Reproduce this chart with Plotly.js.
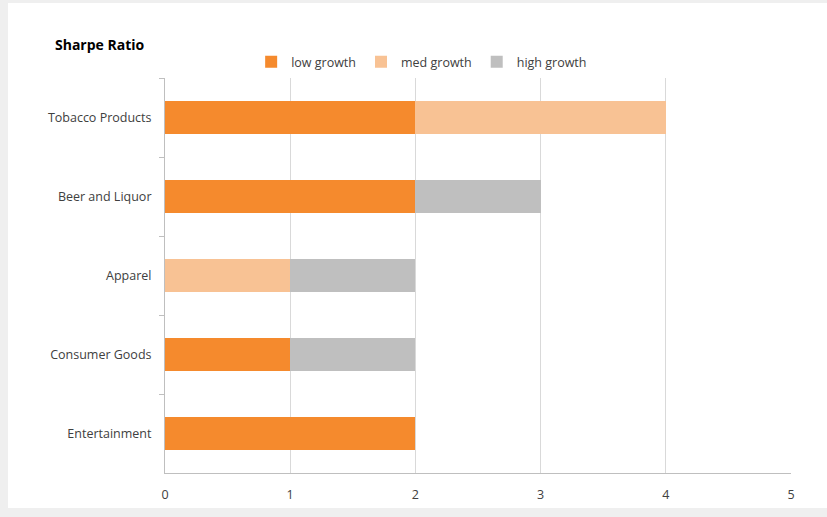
<!DOCTYPE html>
<html><head><meta charset="utf-8">
<script src="https://cdn.plot.ly/plotly-3.0.1.min.js"></script>
<style>
html,body{margin:0;padding:0;background:#efefef;width:827px;height:517px;overflow:hidden;}
#chart{position:absolute;left:8px;top:3px;width:819px;height:505px;background:#fff;}
</style></head>
<body><div id="chart"></div>
<script>
const categories = ["Tobacco Products", "Beer and Liquor", "Apparel", "Consumer Goods", "Entertainment"];
const lowGrowth  = [2, 2, 0, 1, 2];
const medGrowth  = [2, 0, 1, 0, 0];
const highGrowth = [0, 1, 1, 1, 0];
const seriesNames = ["low growth", "med growth", "high growth"];
const xTicks = [0, 1, 2, 3, 4, 5];

const colors = ["#F58A2D", "#F8C294", "#BFBFBF"];
const vals = [lowGrowth, medGrowth, highGrowth];
const traces = vals.map((v, i) => ({
  type: "bar", orientation: "h", name: seriesNames[i],
  x: v, y: categories, marker: {color: colors[i], line: {width: 0}},
  hoverinfo: "x+y+name"
}));

const layout = {
  width: 819, height: 505,
  paper_bgcolor: "#ffffff", plot_bgcolor: "#ffffff",
  margin: {l: 157, r: 36, t: 75, b: 35},
  barmode: "stack", bargap: 0.58,
  font: {family: "Open Sans, Liberation Sans, sans-serif", size: 12, color: "#404040"},
  title: {text: "<b>Sharpe Ratio</b>", x: 47/819, xanchor: "left", xref: "container",
          y: 1 - 42/505, yanchor: "middle", yref: "container",
          font: {size: 14, color: "#000000"}},
  showlegend: true,
  legend: {orientation: "h", x: 0.41, xanchor: "center", y: 1.04, yanchor: "middle",
           itemwidth: 30,
           font: {size: 12.5, color: "#404040"}, traceorder: "normal", bgcolor: "rgba(0,0,0,0)"},
  xaxis: {range: [0, 5], tickvals: xTicks, showgrid: true, gridcolor: "#d9d9d9", gridwidth: 1,
          zeroline: false, showline: true, linecolor: "#bfbfbf", linewidth: 1,
          ticks: "", ticklabelstandoff: 10, tickfont: {size: 12.5, color: "#404040"}, fixedrange: true},
  yaxis: {autorange: "reversed", type: "category", showgrid: false, zeroline: false,
          showline: true, linecolor: "#bfbfbf", linewidth: 1,
          ticks: "outside", tickson: "boundaries", ticklen: 5, tickcolor: "#bfbfbf",
          ticklabelstandoff: 10,
          tickfont: {size: 12.5, color: "#404040"}, fixedrange: true}
};
Plotly.newPlot("chart", traces, layout, {displayModeBar: false, staticPlot: true});
</script></body></html>
